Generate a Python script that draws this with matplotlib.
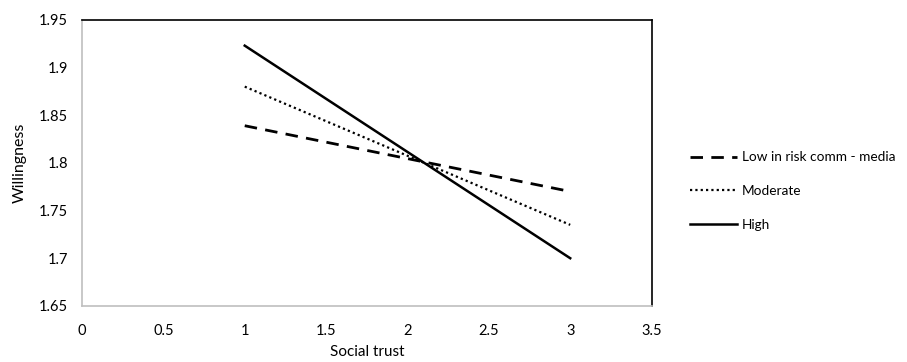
import matplotlib
matplotlib.use("Agg")
import matplotlib.pyplot as plt

plt.rcParams['font.family'] = ['Lato', 'DejaVu Sans']

# data
trust = [1, 3]
low = [1.839, 1.770]
moderate = [1.880, 1.735]
high = [1.923, 1.700]
labels = ['Low in risk comm - media', 'Moderate', 'High']

xticks = [0, 0.5, 1, 1.5, 2, 2.5, 3, 3.5]
yticks = [1.65, 1.7, 1.75, 1.8, 1.85, 1.9, 1.95]

fig = plt.figure(figsize=(9.07, 3.62), dpi=100)
ax = fig.add_axes([0.0904, 0.155, 0.628, 0.79])

ax.plot(trust, low, color='black', lw=2.0, dashes=(4.5, 3), label=labels[0])
ax.plot(trust, moderate, color='black', lw=1.6, dashes=(1, 1.4), label=labels[1])
ax.plot(trust, high, color='black', lw=1.8, label=labels[2])

ax.set_xlim(0, 3.5)
ax.set_ylim(1.65, 1.95)
ax.set_xticks(xticks)
ax.set_xticklabels([f'{t:g}' for t in xticks])
ax.set_yticks(yticks)
ax.set_yticklabels([f'{t:g}' for t in yticks])
ax.tick_params(length=0, labelsize=10.5)
ax.tick_params(axis='x', pad=13)
ax.tick_params(axis='y', pad=10)

for side in ['left', 'bottom']:
    ax.spines[side].set_color('#bfbfbf')
    ax.spines[side].set_linewidth(1.2)
for side in ['top', 'right']:
    ax.spines[side].set_color('black')
    ax.spines[side].set_linewidth(1.2)

ax.set_xlabel('Social trust', fontsize=11, labelpad=5)
ax.set_ylabel('Willingness', fontsize=11.5, labelpad=9)

fig.legend(loc='center left', bbox_to_anchor=(0.747, 0.472), frameon=False,
           fontsize=9.8, handlelength=3.5, handletextpad=0.3, labelspacing=1.6)

fig.savefig('out.png', dpi=100)
